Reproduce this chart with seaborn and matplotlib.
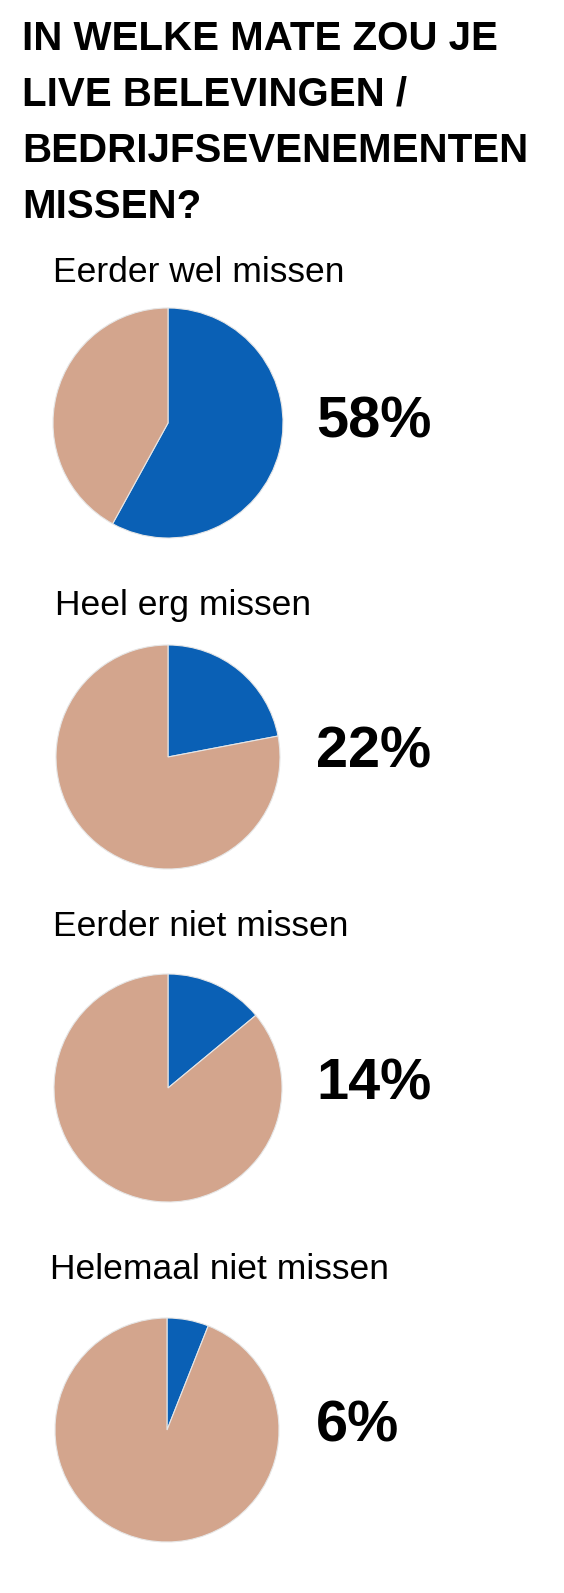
import numpy as np
import seaborn as sns
from matplotlib import pyplot as plt

sns.set_theme(style="white")
plt.rcParams['font.family'] = ['Liberation Sans', 'DejaVu Sans']

title_lines = ["IN WELKE MATE ZOU JE", "LIVE BELEVINGEN /", "BEDRIJFSEVENEMENTEN", "MISSEN?"]
categories = ["Eerder wel missen", "Heel erg missen", "Eerder niet missen", "Helemaal niet missen"]
percentages = [58, 22, 14, 6]

blue = "#0A60B5"
tan = "#D3A58D"

W, H = 564, 1593
fig = plt.figure(figsize=(W / 100, H / 100), dpi=100)
fig.patch.set_facecolor("white")

def fx(x):
    return x / W

def fy(y):
    return 1 - y / H

# title, one line at a time (baselines in px)
title_base = [50, 106, 162, 218]
for line, yb in zip(title_lines, title_base):
    fig.text(fx(22), fy(yb), line, fontsize=29, fontweight="bold", color="black", va="baseline", ha="left")

# layout of each block: label (x, baseline), pie centre, radius, percent (x, baseline)
label_pos = [(53, 282), (55, 615), (53, 936), (50, 1279)]
pie_center = [(168, 423), (168, 757), (168, 1088), (167, 1430)]
pie_r = [115, 112, 114, 112]
pct_pos = [(316, 437), (316, 768), (316, 1100), (316, 1442)]

for cat, pct, (lx, ly), (cx, cy), r, (px, py) in zip(categories, percentages, label_pos, pie_center, pie_r, pct_pos):
    fig.text(fx(lx), fy(ly), cat, fontsize=25.5, color="black", va="baseline", ha="left")
    ax = fig.add_axes([fx(cx - r), fy(cy + r), 2 * r / W, 2 * r / H])
    ax.pie([pct, 100 - pct], colors=[blue, tan], startangle=90, counterclock=False,
           wedgeprops=dict(edgecolor="#E6E6E6", linewidth=0.8), radius=1.0)
    ax.set_xlim(-1.0, 1.0)
    ax.set_ylim(-1.0, 1.0)
    ax.set_aspect("equal")
    ax.axis("off")
    fig.text(fx(px), fy(py), f"{pct}%", fontsize=41.5, fontweight="bold", color="black", va="baseline", ha="left")

fig.savefig("out.png", dpi=100, facecolor="white")
